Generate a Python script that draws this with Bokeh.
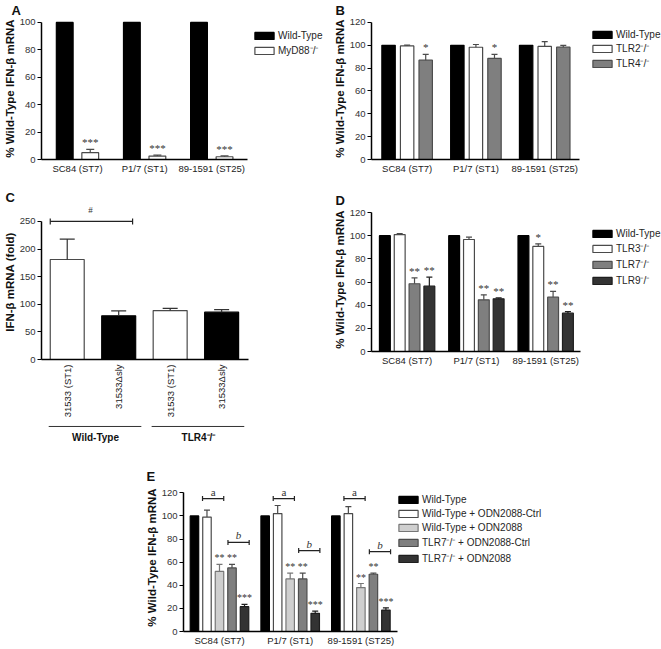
import math
from bokeh.plotting import figure
from bokeh.models import (ColumnDataSource, Range1d, Whisker, TeeHead, LabelSet,
                          Legend, LegendItem, FixedTicker, Title)
from bokeh.core.properties import value
from bokeh.transform import dodge
from bokeh.layouts import column, row
from bokeh.embed import file_html
from bokeh.resources import INLINE

FONT = "Liberation Sans"
YLAB = "% Wild-Type IFN-β mRNA"

strains = ["SC84 (ST7)", "P1/7 (ST1)", "89-1591 (ST25)"]

# ---- Panel A ----
a_series = ["Wild-Type", "MyD88⁻/⁻"]
a_wt = [100, 100, 100]
a_myd88 = [5.0, 2.5, 2.0]
a_myd88_err = [2.4, 0.7, 0.6]
a_myd88_sig = ["***", "***", "***"]

# ---- Panel B ----
b_series = ["Wild-Type", "TLR2⁻/⁻", "TLR4⁻/⁻"]
b_wt = [100, 100, 100]
b_tlr2 = [99.5, 98.3, 99.0]
b_tlr2_err = [0.6, 2.4, 4.3]
b_tlr4 = [87.0, 88.5, 98.4]
b_tlr4_err = [5.0, 3.5, 1.5]
b_tlr4_sig = ["*", "*", ""]

# ---- Panel C ----
c_groups = ["Wild-Type", "TLR4⁻/⁻"]
c_strains = ["31533 (ST1)", "31533Δsly"]
c_values = [181, 79, 88.5, 85.6]
c_err = [37, 9, 4.2, 4.6]
c_sig = ["#"]
c_sig_level = [250]

# ---- Panel D ----
d_series = ["Wild-Type", "TLR3⁻/⁻", "TLR7⁻/⁻", "TLR9⁻/⁻"]
d_wt = [100, 100, 100]
d_tlr3 = [101.0, 96.7, 90.7]
d_tlr3_err = [0.8, 2.0, 2.3]
d_tlr7 = [58.5, 44.6, 46.9]
d_tlr7_err = [5.0, 4.3, 5.0]
d_tlr9 = [56.4, 45.5, 33.1]
d_tlr9_err = [7.8, 0.8, 1.4]
d_tlr3_sig = ["", "", "*"]
d_tlr7_sig = ["**", "**", "**"]
d_tlr9_sig = ["**", "**", "**"]

# ---- Panel E ----
e_series = ["Wild-Type", "Wild-Type + ODN2088-Ctrl", "Wild-Type + ODN2088",
            "TLR7⁻/⁻ + ODN2088-Ctrl", "TLR7⁻/⁻ + ODN2088"]
e_wt = [100, 100, 100]
e_wt_ctrl = [99.0, 102.0, 102.0]
e_wt_ctrl_err = [6.0, 7.0, 6.0]
e_wt_odn = [52.0, 45.5, 38.0]
e_wt_odn_err = [6.0, 5.0, 3.5]
e_tlr7_ctrl = [55.0, 45.5, 49.5]
e_tlr7_ctrl_err = [3.0, 5.0, 1.0]
e_tlr7_odn = [21.5, 15.7, 18.5]
e_tlr7_odn_err = [2.0, 2.0, 2.0]
e_wt_odn_sig = ["**", "**", "**"]
e_tlr7_ctrl_sig = ["**", "**", "**"]
e_tlr7_odn_sig = ["***", "***", "***"]
e_a_level = [115, 115, 115]
e_a_text = ["a", "a", "a"]
e_b_level = [77, 70, 69]
e_b_text = ["b", "b", "b"]

# ---- layout sizes (px) ----
WL, WR, WE = 330, 331, 661
H1, H2, H3 = 176, 270, 202

BLACK, WHITE, GREY, DARK, LIGHT = "#000000", "#ffffff", "#7f7f7f", "#333333", "#cfcfcf"
OUT_W, OUT_G, OUT_D, OUT_L = "#4a4a4a", "#4d4d4d", "#1e1e1e", "#777777"


def base_fig(ticks, labels, x0, x1, ppx, ytop, yticks, ylabel, width, height,
             left, top, bottom, ppy, letter, letter_dx):
    """ppx / ppy: pixels per data unit; x0, x1: axis line extent; ytop: axis line top."""
    frame_w = width - left
    frame_h = height - top - bottom
    p = figure(x_range=Range1d(x0, x0 + frame_w / ppx), y_range=Range1d(0, frame_h / ppy),
               width=width, height=height, min_border_left=left, min_border_right=0,
               min_border_top=top, min_border_bottom=bottom, output_backend="svg",
               toolbar_location=None, tools="")
    p.title = Title(text=letter, align="left", offset=letter_dx, standoff=0,
                    text_font=FONT, text_font_size="13px", text_font_style="bold",
                    text_color="#111111")
    p.outline_line_color = None
    p.xgrid.visible = False
    p.ygrid.visible = False
    ya = p.yaxis[0]
    ya.bounds = (0, ytop)
    ya.ticker = FixedTicker(ticks=yticks)
    ya.axis_label = ylabel
    ya.axis_label_text_font = FONT
    ya.axis_label_text_font_style = "bold"
    ya.axis_label_text_font_size = "11.5px"
    ya.axis_label_text_color = "#111111"
    ya.axis_label_standoff = 1
    ya.major_label_text_font = FONT
    ya.major_label_text_font_size = "9.5px"
    ya.major_label_text_color = "#333333"
    ya.major_label_standoff = 2
    ya.major_tick_in = 0
    ya.major_tick_out = 4
    ya.minor_tick_line_color = None
    ya.axis_line_width = 1.5
    ya.major_tick_line_width = 1.2
    xa = p.xaxis[0]
    xa.bounds = (x0, x1)
    xa.ticker = FixedTicker(ticks=ticks)
    xa.major_label_overrides = {t: l for t, l in zip(ticks, labels)}
    xa.major_tick_line_color = None
    xa.major_tick_in = 0
    xa.major_tick_out = 0
    xa.minor_tick_line_color = None
    xa.minor_tick_out = 0
    xa.axis_line_width = 1.5
    xa.major_label_text_font = FONT
    xa.major_label_text_font_size = "9.5px"
    xa.major_label_text_color = "#222222"
    xa.major_label_standoff = 3
    return p


def bars(p, src, col, off, width, fill, line):
    return p.vbar(x=dodge("i", off), top=col, width=width, source=src,
                  fill_color=fill, line_color=line, line_width=1.2)


def err(p, src, off, lo, hi, cap, color):
    p.add_layout(Whisker(source=src, base=dodge("i", off), lower=lo, upper=hi,
                         dimension="height", line_color=color, line_width=1.2, level="overlay",
                         lower_head=None,
                         upper_head=TeeHead(size=cap, line_color=color, line_width=1.2)))


def stars(p, src, off, ycol, tcol, size="11px", yoff=3):
    p.add_layout(LabelSet(x=dodge("i", off), y=ycol, text=tcol, source=src,
                          text_align="center", text_baseline="alphabetic", y_offset=yoff,
                          text_font=FONT, text_font_size=size, text_color="#333333"))


def legend(p, items, x, y, spacing):
    leg = Legend(items=[LegendItem(label=l, renderers=[r]) for l, r in items],
                 location=(x, y), orientation="vertical",
                 margin=0, padding=0, spacing=spacing, glyph_width=24, glyph_height=9,
                 label_height=12, label_standoff=2, border_line_color=None,
                 background_fill_alpha=0, label_text_font=FONT, label_text_font_size="10px",
                 label_text_color="#262626")
    p.add_layout(leg, "center")


def hi(v, e):
    return [a + b for a, b in zip(v, e)]


idx = list(range(len(strains)))
Y100 = [0, 20, 40, 60, 80, 100]
Y120 = [0, 20, 40, 60, 80, 100, 120]

# ================= A =================
pa = base_fig(idx, strains, -0.536, 2.536, 69, 100, Y100, YLAB, WL, H1,
              33, 17, 16, 1.38, "A", -30)
src_a = ColumnDataSource(dict(i=idx, wt=a_wt, myd=a_myd88,
                              myd_hi=hi(a_myd88, a_myd88_err), myd_sig=a_myd88_sig))
ra1 = bars(pa, src_a, "wt", -0.19, 0.25, BLACK, BLACK)
ra2 = bars(pa, src_a, "myd", 0.19, 0.25, WHITE, OUT_W)
err(pa, src_a, 0.19, "myd", "myd_hi", 8, OUT_W)
stars(pa, src_a, 0.19, "myd_hi", "myd_sig")
legend(pa, [(a_series[0], ra1), (a_series[1], ra2)], 211, 102, 2)

# ================= B =================
pb = base_fig(idx, strains, -0.518, 2.50, 69.5, 120, Y120, YLAB, WR, H1,
              38, 17, 15, 1.158, "B", -36)
src_b = ColumnDataSource(dict(i=idx, wt=b_wt, t2=b_tlr2, t2_hi=hi(b_tlr2, b_tlr2_err),
                              t4=b_tlr4, t4_hi=hi(b_tlr4, b_tlr4_err), t4_sig=b_tlr4_sig))
rb1 = bars(pb, src_b, "wt", -0.27, 0.195, BLACK, BLACK)
rb2 = bars(pb, src_b, "t2", 0.0, 0.195, WHITE, OUT_W)
rb3 = bars(pb, src_b, "t4", 0.27, 0.195, GREY, OUT_G)
err(pb, src_b, 0.0, "t2", "t2_hi", 6, OUT_W)
err(pb, src_b, 0.27, "t4", "t4_hi", 6, OUT_G)
stars(pb, src_b, 0.27, "t4_hi", "t4_sig")
legend(pb, [(b_series[0], rb1), (b_series[1], rb2), (b_series[2], rb3)], 219, 89, 1)

# ================= C =================
c_labels = [s for g in c_groups for s in c_strains]
c_idx = list(range(len(c_labels)))
HC = 244
pc = base_fig(c_idx, c_labels, -0.5, 3.52, 52, 250, [0, 50, 100, 150, 200, 250],
              "IFN-β mRNA (fold)", WL, HC, 38, 28, HC - 184, 0.556, "C", -36)
xca = pc.xaxis[0]
xca.major_label_orientation = math.pi / 2
xca.major_label_standoff = 5
src_c = ColumnDataSource(dict(i=c_idx, v=c_values, v_hi=hi(c_values, c_err),
                              fill=[WHITE, BLACK] * len(c_groups),
                              line=[OUT_W, BLACK] * len(c_groups)))
pc.vbar(x="i", top="v", width=0.66, source=src_c, line_width=1.2,
        fill_color="fill", line_color="line")
pc.add_layout(Whisker(source=src_c, base="i", lower="v", upper="v_hi", dimension="height",
                      line_color="#333333", line_width=1.2, level="overlay", lower_head=None,
                      upper_head=TeeHead(size=15, line_color="#333333", line_width=1.2)))
src_cb = ColumnDataSource(dict(a=[0], b=[1], y=c_sig_level, lab=c_sig))
pc.add_layout(Whisker(source=src_cb, base="y", lower=dodge("a", -0.33), upper=dodge("b", 0.27),
                      dimension="width", line_color="#222222", line_width=1.2, level="overlay",
                      lower_head=TeeHead(size=6, line_color="#222222", line_width=1.2),
                      upper_head=TeeHead(size=6, line_color="#222222", line_width=1.2)))
pc.add_layout(LabelSet(source=src_cb, x=dodge("a", 0.45), y="y", text="lab",
                       text_align="center", text_baseline="alphabetic", y_offset=8,
                       text_font=FONT, text_font_size="9px", text_color="#333333"))

# group labels under the rotated tick labels (shares the x scale of C)
pcg = figure(x_range=pc.x_range, y_range=Range1d(0, 1), width=WL, height=H2 - HC,
             min_border_left=38, min_border_right=0, min_border_top=0, min_border_bottom=0,
             x_axis_location=None, y_axis_location=None, output_backend="svg",
             toolbar_location=None, tools="")
pcg.outline_line_color = None
pcg.grid.visible = False
g_idx = [2 * k for k in range(len(c_groups))]
src_cg = ColumnDataSource(dict(g=g_idx, name=c_groups))
pcg.segment(x0=dodge("g", -0.36), x1=dodge("g", 1.44), y0=0.77, y1=0.77, source=src_cg,
            line_color="#333333", line_width=1)
pcg.text(x=dodge("g", 0.55), y=0.33, text="name", source=src_cg, text_align="center",
         text_baseline="middle", text_font=value(FONT), text_font_style="bold",
         text_font_size="10px", text_color="#111111")

# ================= D =================
pd_ = base_fig(idx, strains, -0.514, 2.50, 70, 120, Y120, YLAB, WR, H2,
               38, 31, 95, 1.158, "D", -36)
src_d = ColumnDataSource(dict(i=idx, wt=d_wt,
                              t3=d_tlr3, t3_hi=hi(d_tlr3, d_tlr3_err), t3_sig=d_tlr3_sig,
                              t7=d_tlr7, t7_hi=hi(d_tlr7, d_tlr7_err), t7_sig=d_tlr7_sig,
                              t9=d_tlr9, t9_hi=hi(d_tlr9, d_tlr9_err), t9_sig=d_tlr9_sig))
rd1 = bars(pd_, src_d, "wt", -0.321, 0.157, BLACK, BLACK)
rd2 = bars(pd_, src_d, "t3", -0.107, 0.157, WHITE, OUT_W)
rd3 = bars(pd_, src_d, "t7", 0.107, 0.157, GREY, OUT_G)
rd4 = bars(pd_, src_d, "t9", 0.321, 0.157, DARK, OUT_D)
err(pd_, src_d, -0.107, "t3", "t3_hi", 6, OUT_W)
err(pd_, src_d, 0.107, "t7", "t7_hi", 6, OUT_G)
err(pd_, src_d, 0.321, "t9", "t9_hi", 6, OUT_D)
stars(pd_, src_d, -0.107, "t3_hi", "t3_sig")
stars(pd_, src_d, 0.107, "t7_hi", "t7_sig")
stars(pd_, src_d, 0.321, "t9_hi", "t9_sig")
legend(pd_, [(d_series[0], rd1), (d_series[1], rd2), (d_series[2], rd3), (d_series[3], rd4)],
       219, 64, 2)

# ================= E =================
pe = base_fig(idx, strains, -0.509, 2.52, 70.7, 120, Y120, YLAB, WE, H3,
              183, 37, 16, 1.164, "E", -37)
src_e = ColumnDataSource(dict(i=idx, wt=e_wt,
                              c1=e_wt_ctrl, c1_hi=hi(e_wt_ctrl, e_wt_ctrl_err),
                              o1=e_wt_odn, o1_hi=hi(e_wt_odn, e_wt_odn_err), o1_sig=e_wt_odn_sig,
                              c7=e_tlr7_ctrl, c7_hi=hi(e_tlr7_ctrl, e_tlr7_ctrl_err), c7_sig=e_tlr7_ctrl_sig,
                              o7=e_tlr7_odn, o7_hi=hi(e_tlr7_odn, e_tlr7_odn_err), o7_sig=e_tlr7_odn_sig,
                              a_y=e_a_level, a_t=e_a_text, b_y=e_b_level, b_t=e_b_text))
re1 = bars(pe, src_e, "wt", -0.354, 0.12, BLACK, BLACK)
re2 = bars(pe, src_e, "c1", -0.177, 0.12, WHITE, OUT_W)
re3 = bars(pe, src_e, "o1", 0.0, 0.12, LIGHT, OUT_L)
re4 = bars(pe, src_e, "c7", 0.177, 0.12, GREY, OUT_G)
re5 = bars(pe, src_e, "o7", 0.354, 0.12, DARK, OUT_D)
err(pe, src_e, -0.177, "c1", "c1_hi", 6, OUT_W)
err(pe, src_e, 0.0, "o1", "o1_hi", 6, OUT_L)
err(pe, src_e, 0.177, "c7", "c7_hi", 6, OUT_G)
err(pe, src_e, 0.354, "o7", "o7_hi", 6, OUT_D)
stars(pe, src_e, 0.0, "o1_hi", "o1_sig", "10px")
stars(pe, src_e, 0.177, "c7_hi", "c7_sig", "10px")
stars(pe, src_e, 0.354, "o7_hi", "o7_sig", "10px")
for lo, up, ycol, tcol, style in [(-0.24, 0.06, "a_y", "a_t", "normal"),
                                  (0.12, 0.42, "b_y", "b_t", "italic")]:
    pe.add_layout(Whisker(source=src_e, base=ycol, lower=dodge("i", lo), upper=dodge("i", up),
                          dimension="width", line_color="#222222", line_width=1.2, level="overlay",
                          lower_head=TeeHead(size=5, line_color="#222222", line_width=1.2),
                          upper_head=TeeHead(size=5, line_color="#222222", line_width=1.2)))
    pe.add_layout(LabelSet(source=src_e, x=dodge("i", (lo + up) / 2), y=ycol, text=tcol,
                           text_align="center", text_baseline="alphabetic", y_offset=3,
                           text_font=FONT, text_font_size="11px", text_font_style=style,
                           text_color="#333333"))
legend(pe, [(e_series[k], r) for k, r in enumerate([re1, re2, re3, re4, re5])], 213, 66, 2)

layout = column(row(pa, pb), row(column(pc, pcg), pd_), pe)
open("out.html", "w").write(file_html(layout, INLINE))
